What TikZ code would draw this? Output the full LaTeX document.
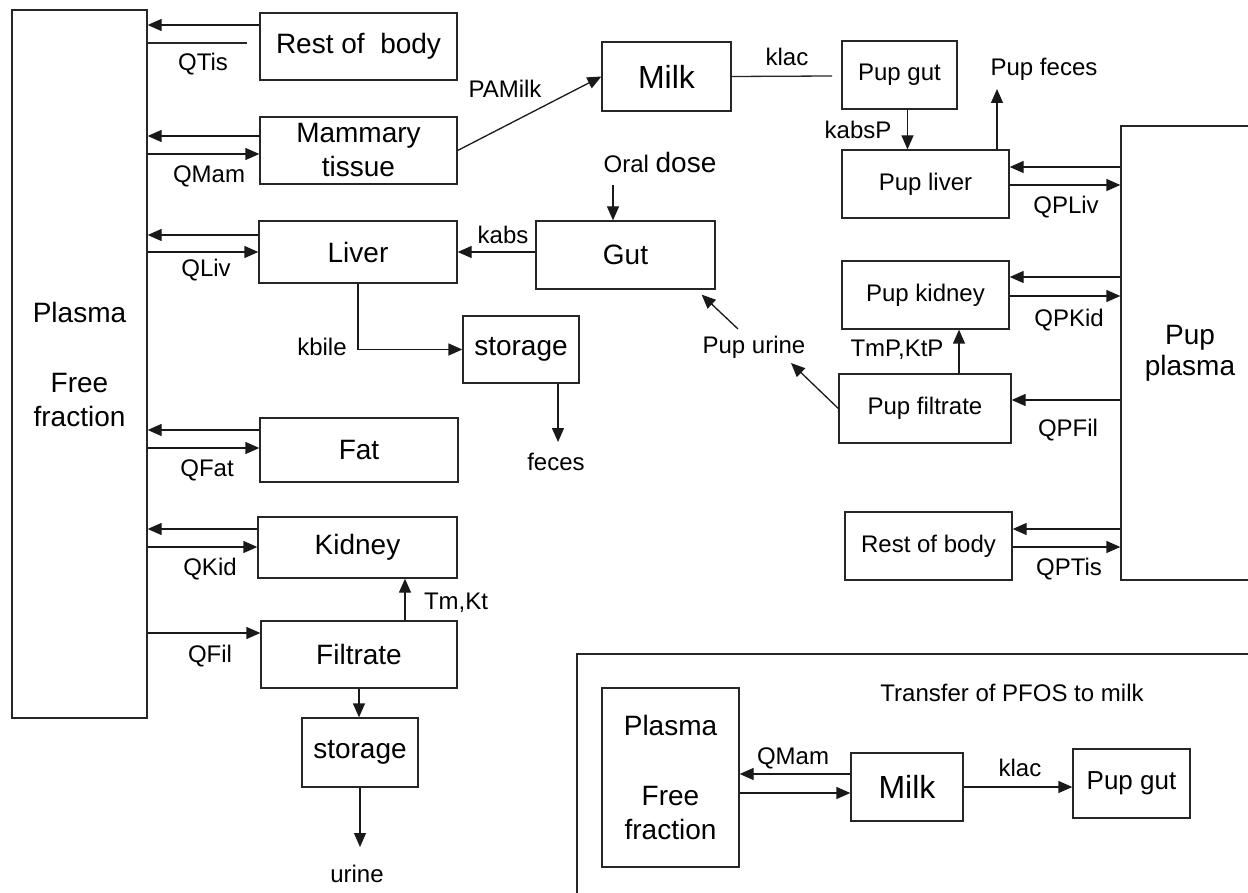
\documentclass[tikz,border=0pt]{standalone}
\usepackage{fontspec}
\setmainfont{Liberation Sans}
\usetikzlibrary{arrows.meta}

\tikzset{
  organ/.style={draw=black!85, line width=1.3pt, inner sep=0pt, align=center,
    font=\fontsize{28}{34}\selectfont},
  puporgan/.style={organ, font=\fontsize{24}{29}\selectfont},
  rate/.style={inner sep=0pt, font=\fontsize{24}{28}\selectfont},
  flow/.style={line width=1.3pt, draw=black!90, -{Triangle[length=14pt,width=12pt]}},
  bare/.style={line width=1.3pt, draw=black!85},
}

\begin{document}
\begin{tikzpicture}[x=1pt,y=-1pt]
			\useasboundingbox (0,0) rectangle (1248,893);

			% mother
			\node[organ, minimum width=135pt, minimum height=708pt] (plasma) at (79.5,364) {Plasma\\[36pt]Free\\fraction};
			\node[organ, minimum width=197pt, minimum height=67pt] (rest) at (358.5,46.5) {Rest of~ body};
			\node[organ, minimum width=197pt, minimum height=67pt] (mam) at (358.5,150.5) {Mammary\\tissue};
			\node[organ, minimum width=198pt, minimum height=62pt] (liv) at (358,252) {Liver};
			\node[organ, minimum width=179pt, minimum height=68pt] (gut) at (625.5,255) {Gut};
			\node[organ, minimum width=116pt, minimum height=67pt] (sto1) at (521,349.5) {storage};
			\node[organ, minimum width=198pt, minimum height=64pt] (fat) at (359,450) {Fat};
			\node[organ, minimum width=199pt, minimum height=61pt] (kid) at (357.5,547.5) {Kidney};
			\node[organ, minimum width=196pt, minimum height=67pt] (fil) at (359,654.5) {Filtrate};
			\node[organ, minimum width=116pt, minimum height=69pt] (sto2) at (360,752.5) {storage};
			\node[organ, minimum width=129pt, minimum height=69pt, font=\fontsize{32}{36}\selectfont] (milk) at (666.5,76.5) {Milk};

			% pup
			\node[puporgan, minimum width=115pt, minimum height=68pt] (pgut) at (899.5,75) {Pup gut};
			\node[puporgan, minimum width=167pt, minimum height=68pt] (pliv) at (925.5,184) {Pup liver};
			\node[puporgan, minimum width=167pt, minimum height=68pt] (pkid) at (925.5,295) {Pup kidney};
			\node[puporgan, minimum width=172pt, minimum height=69pt] (pfil) at (925,408.5) {Pup filtrate};
			\node[puporgan, minimum width=167pt, minimum height=68pt] (prest) at (928.5,546) {Rest of body};
			\node[organ, minimum width=138pt, minimum height=454pt, font=\fontsize{28}{31}\selectfont] (pplas) at (1190,353) {Pup\\plasma};

			% rates
			\node[rate] (lqtis) at (203,64) {QTis};
			\node[rate] (lqmam) at (209,176) {QMam};
			\node[rate] (lqliv) at (206,270) {QLiv};
			\node[rate] (lqfat) at (207,470) {QFat};
			\node[rate] (lqkid) at (210,569) {QKid};
			\node[rate] (lqfil) at (210,656) {QFil};
			\node[rate] (lpamilk) at (505,89) {PAMilk};
			\node[rate] (lklac) at (787,57) {klac};
			\node[rate] (lkabsp) at (858,130) {kabsP};
			\node[rate] (lpfeces) at (1044,69) {Pup feces};
			\node[rate] (lqpliv) at (1066,207) {QPLiv};
			\node[rate] (loral) at (660,162) {{\fontsize{24}{28}\selectfont Oral} {\fontsize{28}{32}\selectfont dose}};
			\node[rate] (lkabs) at (503,235) {kabs};
			\node[rate] (lkbile) at (322,347) {kbile};
			\node[rate] (lfeces) at (556,462) {feces};
			\node[rate] (lurine) at (357,874) {urine};
			\node[rate] (ltmkt) at (456,603) {Tm,Kt};
			\node[rate] (lpurine) at (754,347) {Pup urine};
			\node[rate] (ltmpktp) at (897,350) {TmP,KtP};
			\node[rate] (lqpkid) at (1069,320) {QPKid};
			\node[rate] (lqpfil) at (1068,430) {QPFil};
			\node[rate] (lqptis) at (1069,569) {QPTis};

			% free ends
			\coordinate (qtisend) at (247,43);
			\coordinate (oraltop) at (613,185);
			\coordinate (fecesend) at (558,442);
			\coordinate (urineend) at (360,847);
			\coordinate (klacend) at (832,76);
			\coordinate (pfecesend) at (997,89);
			\coordinate (purinetip) at (791,363);
			\coordinate (purinefrom) at (738,329);

			% exchange with plasma
			\draw[flow] (rest.west |- 0,25) -- (plasma.east |- 0,25);
			\draw[bare] (plasma.east |- 0,43) -- (qtisend);
			\foreach \n/\ya/\yb in {mam/136/154, liv/235/252, fat/430/448, kid/529/547}
			{
				\draw[flow] (\n.west |- 0,\ya) -- (plasma.east |- 0,\ya);
				\draw[flow] (plasma.east |- 0,\yb) -- (\n.west |- 0,\yb);
			}
			\draw[flow] (plasma.east |- 0,633) -- (fil.west |- 0,633);
			\draw[flow] ([xshift=46pt]fil.north) -- ([xshift=46pt]fil.north |- kid.south);
			\draw[flow] (fil.south) -- (fil.south |- sto2.north);
			\draw[flow] (sto2.south) -- (urineend);

			% gut and liver
			\draw[flow] (oraltop) -- (oraltop |- gut.north);
			\draw[flow] (gut.west |- liv.east) -- (liv.east);
			\draw[flow] (liv.south) |- (sto1.west);
			\draw[flow] ([xshift=37pt]sto1.south) -- (fecesend);

			% lactation
			\draw[flow] (mam.east) -- (milk.west);
			\draw[bare] (milk.east) -- (klacend);
			\draw[flow] ([xshift=8pt]pgut.south) -- ([xshift=8pt]pgut.south |- pliv.north);
			\draw[flow] ([xshift=71.5pt]pliv.north) -- (pfecesend);

			% pup exchange
			\foreach \n/\ya/\yb in {pliv/167/185, pkid/277/296, prest/529/547}
			{
				\draw[flow] (pplas.west |- 0,\ya) -- (\n.east |- 0,\ya);
				\draw[flow] (\n.east |- 0,\yb) -- (pplas.west |- 0,\yb);
			}
			\draw[flow] (pplas.west |- 0,400) -- (pfil.east |- 0,400);
			\draw[flow] ([xshift=34pt]pfil.north) -- ([xshift=34pt]pfil.north |- pkid.south);
			\draw[flow] (pfil.west) -- (purinetip);
			\draw[flow] (purinefrom) -- ([shift={(-14,5)}]gut.south east);

			% inset
			\draw[bare] (577,654) rectangle (1262,906);
			\node[rate] (ltitle) at (1012,693) {Transfer of PFOS to milk};
			\node[organ, minimum width=137pt, minimum height=179pt] (iplas) at (670.5,777.5) {Plasma\\[36pt]Free\\fraction};
			\node[organ, minimum width=112pt, minimum height=68pt, font=\fontsize{32}{36}\selectfont] (imilk) at (907,787) {Milk};
			\node[organ, minimum width=117pt, minimum height=69pt, font=\fontsize{26}{30}\selectfont] (ipgut) at (1131.5,783.5) {Pup gut};
			\node[rate] (iqmam) at (793,758) {QMam};
			\node[rate] (iklac) at (1020,768) {klac};
			\draw[flow] (imilk.west |- 0,774) -- (iplas.east |- 0,774);
			\draw[flow] (iplas.east |- 0,793) -- (imilk.west |- 0,793);
			\draw[flow] (imilk.east |- 0,787) -- (ipgut.west |- 0,787);
		\end{tikzpicture}
\end{document}
